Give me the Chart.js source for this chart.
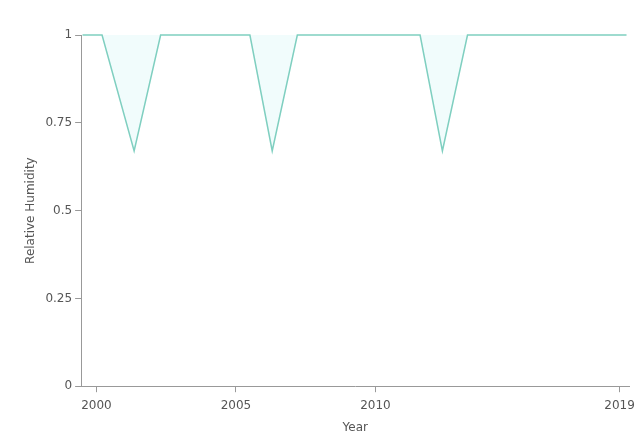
<!DOCTYPE html>
<html lang="en">
<head>
    <meta charset="UTF-8">
    <title>Relative Humidity</title>
    <script src="https://cdn.jsdelivr.net/npm/chart.js"></script>
    <style>
        body {
            margin: 0;
            background-color: white;
        }
        .wrap {
            width: 641px;
            height: 437px;
        }
    </style>
</head>
<body>
    <div class="wrap"><canvas id="chart"></canvas></div>

    <script>
        // x positions (years) and values
        const xValues = [1999.5, 2000.2, 2001.35, 2002.3, 2005.5, 2006.3, 2007.2, 2011.6, 2012.4, 2013.3, 2019.0];
        const yValues = [1, 1, 0.67, 1, 1, 0.67, 1, 1, 0.67, 1, 1];
        const xTicks = [2000, 2005, 2010, 2018.75];
        const xTickLabels = ['2000', '2005', '2010', '2019'];
        const yTicks = [0, 0.25, 0.5, 0.75, 1];

        const points = xValues.map((x, i) => ({ x: x, y: yValues[i] }));

        new Chart(document.getElementById('chart'), {
            type: 'line',
            data: {
                datasets: [{
                    data: points,
                    borderColor: '#7fcfc0',
                    borderWidth: 1.5,
                    backgroundColor: 'rgba(228, 249, 249, 0.5)',
                    fill: 'end',
                    clip: false,
                    pointRadius: 0,
                    tension: 0
                }]
            },
            options: {
                responsive: true,
                maintainAspectRatio: false,
                animation: false,
                layout: { padding: { top: 35, right: 10, left: 20, bottom: 0 } },
                plugins: {
                    legend: { display: false },
                    tooltip: { enabled: false }
                },
                scales: {
                    x: {
                        type: 'linear',
                        min: 1999.45,
                        max: 2019.1,
                        afterBuildTicks: (axis) => {
                            axis.ticks = xTicks.map(v => ({ value: v }));
                        },
                        ticks: {
                            autoSkip: false,
                            maxRotation: 0,
                            padding: 6,
                            color: '#555',
                            font: { family: 'DejaVu Sans', size: 12 },
                            callback: (val, i) => xTickLabels[i]
                        },
                        grid: { drawOnChartArea: false, tickLength: 6, color: '#999' },
                        border: { color: '#999' },
                        title: {
                            display: true,
                            text: 'Year',
                            color: '#555',
                            padding: { top: 2, bottom: 2 },
                            font: { family: 'DejaVu Sans', size: 12 }
                        }
                    },
                    y: {
                        min: 0,
                        max: 1,
                        afterBuildTicks: (axis) => {
                            axis.ticks = yTicks.map(v => ({ value: v }));
                        },
                        ticks: {
                            color: '#555',
                            font: { family: 'DejaVu Sans', size: 12 },
                            callback: (val) => String(val)
                        },
                        grid: { drawOnChartArea: false, tickLength: 6, color: '#999' },
                        border: { color: '#999' },
                        title: {
                            display: true,
                            text: 'Relative Humidity',
                            color: '#555',
                            font: { family: 'DejaVu Sans', size: 12 }
                        }
                    }
                }
            }
        });
    </script>
</body>
</html>
